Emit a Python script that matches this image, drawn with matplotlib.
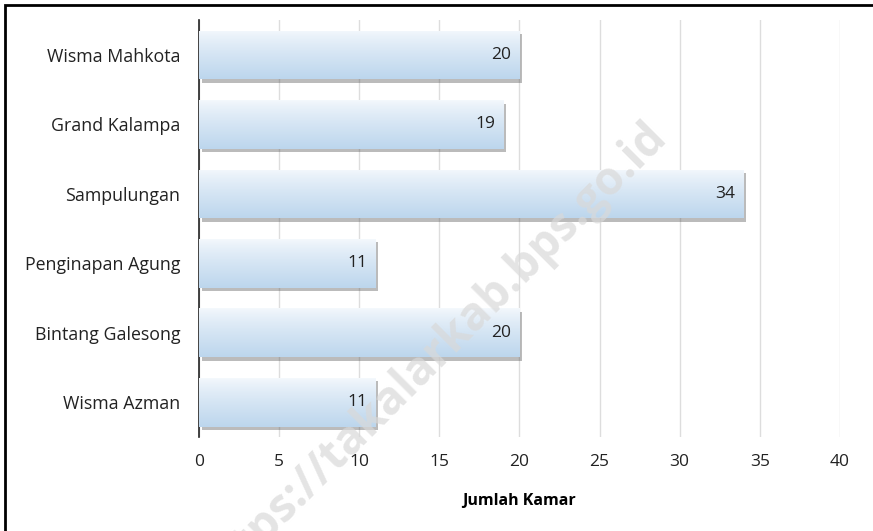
import numpy as np
import matplotlib
matplotlib.use('Agg')
import matplotlib.pyplot as plt
import matplotlib.patheffects as pe
from matplotlib.patches import Rectangle

hotels = ['Wisma Mahkota', 'Grand Kalampa', 'Sampulungan', 'Penginapan Agung', 'Bintang Galesong', 'Wisma Azman']
rooms = [20, 19, 34, 11, 20, 11]
xticks = [0, 5, 10, 15, 20, 25, 30, 35, 40]

plt.rcParams['font.family'] = ['Open Sans', 'DejaVu Sans']

fig = plt.figure(figsize=(8.73, 5.31), dpi=100)
ax = fig.add_axes([0.228, 0.177, 0.734, 0.785])

# frame round the whole picture
fig.patches.append(Rectangle((5 / 873, -0.01), 1, 1 - 5 / 531 + 0.01, transform=fig.transFigure,
                             fill=False, edgecolor='black', linewidth=2, zorder=0))

ypos = np.arange(len(hotels))[::-1]
bars = ax.barh(ypos, rooms, height=0.7, color='#c8dcf0', zorder=2,
               path_effects=[pe.SimplePatchShadow(offset=(2, -2.5), shadow_rgbFace='#555555', alpha=0.4),
                             pe.Normal()])

# vertical gradient: light at top, blue at bottom
grad = np.linspace(0, 1, 100).reshape(-1, 1)
top = np.array([0.96, 0.975, 0.99])
bot = np.array([0.74, 0.84, 0.93])
img = top + (bot - top) * grad[..., None] ** 0.8
img = img.reshape(100, 1, 3)
for b, y, v in zip(bars, ypos, rooms):
    im = ax.imshow(img, extent=(0, v, y - 0.35, y + 0.35), aspect='auto', origin='upper', zorder=3)
    im.set_clip_path(b)
    ax.annotate(str(v), (v, y), xytext=(-6, 0), textcoords='offset points', ha='right', va='center',
                fontsize=12.5, color='#222222', zorder=4)

ax.set_xlim(0, 40)
ax.set_ylim(-0.5, len(hotels) - 0.5)
ax.set_yticks(ypos)
ax.set_yticklabels(hotels, fontsize=12.8, color='#222222')
ax.set_xticks(xticks)
ax.set_xticklabels([str(t) for t in xticks], fontsize=12.5, color='#222222')
ax.tick_params(length=0)
ax.tick_params(axis='y', pad=13.5)
ax.tick_params(axis='x', pad=12)
ax.grid(axis='x', color='#dddddd', linewidth=1, zorder=0)
ax.set_axisbelow(True)
for s in ['top', 'right', 'bottom']:
    ax.spines[s].set_visible(False)
ax.spines['left'].set_color('#222222')
ax.spines['left'].set_linewidth(1.2)
ax.set_xlabel('Jumlah Kamar', fontsize=11.5, fontweight='bold', labelpad=17)

# watermark
fig.text(0.495, 0.33, 'https://takalarkab.bps.go.id', fontsize=33, fontweight='bold', color='#d9d9d9',
         rotation=45, ha='center', va='center', alpha=0.7, zorder=10)

fig.savefig('out.png', dpi=100)
